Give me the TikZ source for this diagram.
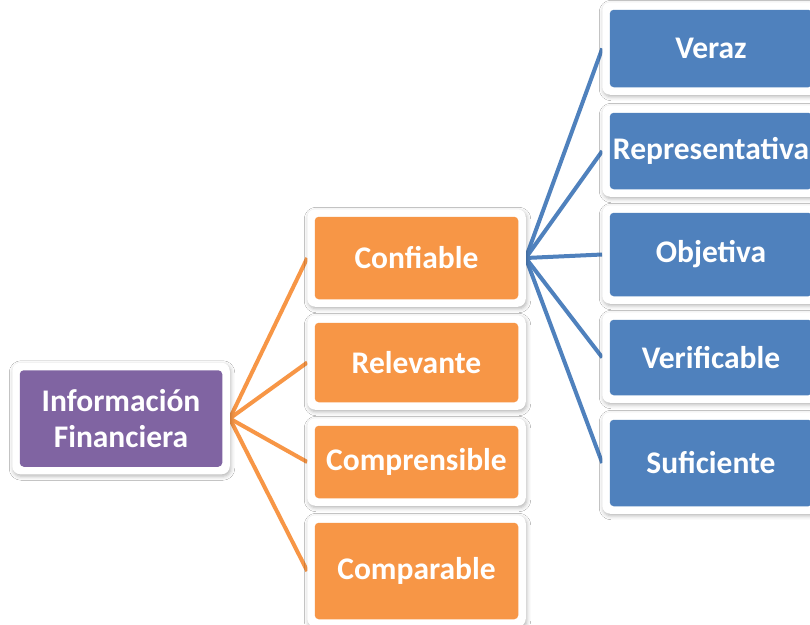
\documentclass[tikz,border=0pt]{standalone}
\usepackage{fontspec}
\setmainfont{Carlito}
\usetikzlibrary{backgrounds,shadows.blur}

\definecolor{rootpurple}{HTML}{8064A2}
\definecolor{midorange}{HTML}{F79646}
\definecolor{leafblue}{HTML}{4F81BD}

% a card: white frame with a soft shadow, coloured face inside
\tikzset{
  card/.style={
    fill=white, rounded corners=8pt,
    inner sep=0pt, outer sep=0pt, align=center,
    text=white, font=\bfseries\fontsize{31.5}{36}\selectfont,
    blur shadow={shadow xshift=1pt, shadow yshift=-2pt,
                 shadow blur radius=4pt, shadow opacity=30},
    path picture={
      \fill[#1, rounded corners=4pt]
        ([xshift=7.5pt,yshift=-7.5pt]path picture bounding box.north west)
        rectangle
        ([xshift=-7.5pt,yshift=7.5pt]path picture bounding box.south east);
    }
  },
  rootbox/.style={card=rootpurple, minimum width=217.5pt},
  midbox/.style={card=midorange, minimum width=218.5pt},
  leafbox/.style={card=leafblue, minimum width=217.5pt},
  midlink/.style={draw=midorange, line width=4pt},
  leaflink/.style={draw=leafblue, line width=4pt}
}

\begin{document}
\begin{tikzpicture}[x=1pt, y=-1pt]
  \useasboundingbox (0,0) rectangle (810,624);
  \clip (0,0) rectangle (810,624);

  % root
  \node[rootbox, minimum height=111.5pt] (root) at (121,418.5) {Información\\Financiera};

  % second level
  \node[midbox, minimum height=97.5pt]  (conf) at (416.5,258)   {Confiable};
  \node[midbox, minimum height=94.5pt]  (rel)  at (416.5,362.5) {Relevante};
  \node[midbox, minimum height=87.5pt]  (comp) at (416.5,462)   {Comprensible};
  \node[midbox, minimum height=111.5pt] (cmpa) at (416.5,571)   {Comparable};

  % third level
  \node[leafbox, minimum height=92.5pt] (ver)  at (711,48.5)  {Veraz};
  \node[leafbox, minimum height=91.5pt] (rep)  at (711,151)   {Representativa};
  \node[leafbox, minimum height=98.5pt] (obj)  at (711,254.5) {Objetiva};
  \node[leafbox, minimum height=90.5pt] (vrf)  at (711,357.5) {Verificable};
  \node[leafbox, minimum height=101.5pt] (suf) at (711,463)   {Suficiente};

  \begin{pgfonlayer}{background}
    \fill[white] (0,0) rectangle (810,624);
    \foreach \m in {conf,rel,comp,cmpa}
      \draw[midlink] (root.east) -- (\m.west);
    \foreach \l in {ver,rep,obj,vrf,suf}
      \draw[leaflink] (conf.east) -- (\l.west);
  \end{pgfonlayer}
\end{tikzpicture}
\end{document}
